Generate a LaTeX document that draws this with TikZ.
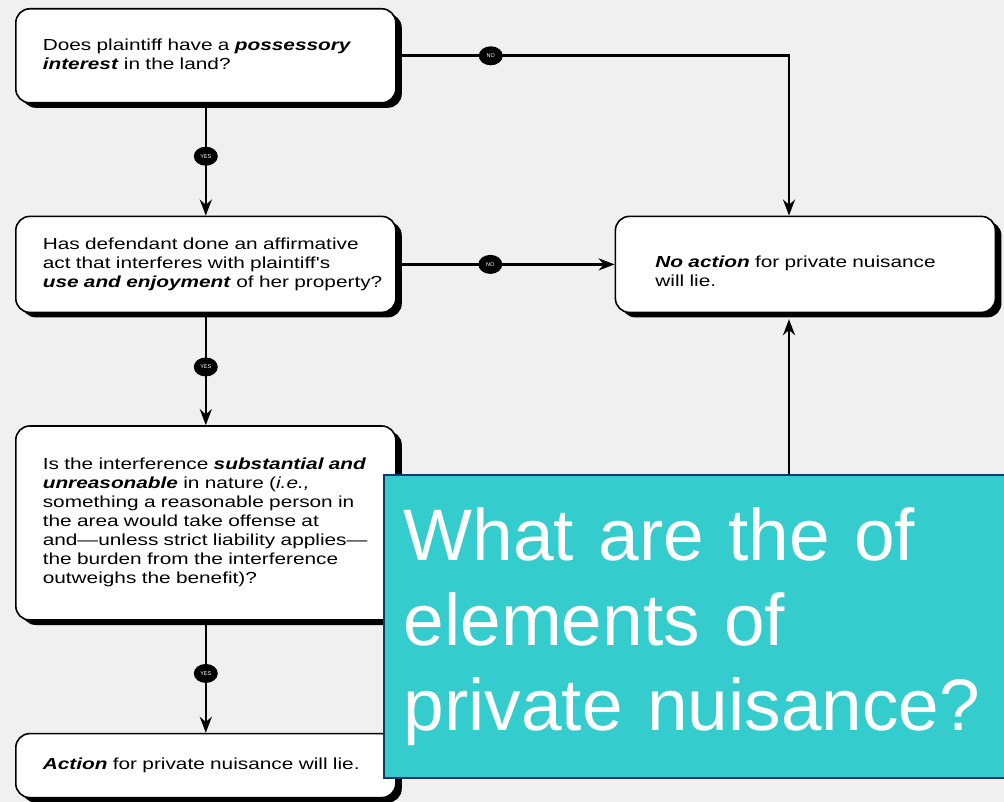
\documentclass[tikz,border=0pt]{standalone}
\usepackage{fontspec}
\setsansfont{Liberation Sans}
\newfontfamily\scanfont[FakeStretch=1.3]{Liberation Sans}
\usetikzlibrary{positioning,shapes.geometric,shadows,arrows.meta}
\definecolor{paper}{RGB}{240,240,240}
\definecolor{slide}{RGB}{52,204,204}
\definecolor{navy}{RGB}{24,56,100}
\newcommand{\qlines}[1]{\begin{tabular}{@{}l@{}}#1\end{tabular}}

\begin{document}
\begin{tikzpicture}[x=1pt,y=-1pt,
  qbox/.style={draw, line width=1.6pt, rounded corners=14pt, fill=white,
    drop shadow={shadow xshift=6pt, shadow yshift=-5pt, fill=black, opacity=1},
    text width=326pt, inner xsep=27pt, align=left,
    font=\scanfont\fontsize{16}{19}\selectfont},
  flow/.style={line width=2.6pt, -{Stealth[length=16pt,width=12pt]}},
  badge/.style={ellipse, fill=black, minimum width=24pt, minimum height=19pt,
    inner sep=0pt, text=white, font=\sffamily\fontsize{5.5}{5.5}\selectfont}]

  \path[use as bounding box, fill=paper] (0,0) rectangle (1004,802);

  \node[qbox, minimum height=94pt, anchor=north west] (possess) at (15,8)
    {\qlines{Does plaintiff have a \textbf{\textit{possessory}}\\
     \textbf{\textit{interest}} in the land?}};
  \node[qbox, minimum height=96pt, below=112pt of possess] (act)
    {\qlines{Has defendant done an affirmative\\
     act that interferes with plaintiff's\\
     \textbf{\textit{use and enjoyment}} of her property?}};
  \node[qbox, minimum height=194pt, below=112pt of act] (unreason)
    {\qlines{Is the interference \textbf{\textit{substantial and}}\\
     \textbf{\textit{unreasonable}} in nature (\textit{i.e.,}\\
     something a reasonable person in\\
     the area would take offense at\\
     and\textemdash unless strict liability applies\textemdash\\
     the burden from the interference\\
     outweighs the benefit)?}};
  \node[qbox, minimum height=64pt, below=112pt of unreason] (action)
    {\qlines{\textbf{\textit{Action}} for private nuisance will lie.}};
  \node[qbox, minimum height=96pt, text width=300pt, inner xsep=40pt,
    right=218pt of act] (noaction)
    {\raisebox{-9pt}[\height][\depth]{\qlines{\textbf{\textit{No action}} for private nuisance\\ will lie.}}};

  \coordinate (drop) at (789,0);

  \draw[flow] (possess) -- node[badge, pos=0.47] {YES} (act);
  \draw[flow] (act) -- node[badge, pos=0.48] {YES} (unreason);
  \draw[flow] (unreason) -- node[badge, pos=0.47] {YES} (action);

  \draw[flow] (possess.east) -- node[badge, pos=0.24] {NO} (possess.east -| drop)
    -- (noaction.north -| drop);
  \draw[flow] (act) -- node[badge, pos=0.43] {NO} (noaction);
  \draw[flow, shorten >=6pt] (unreason.east) -- (unreason.east -| drop)
    -- (noaction.south -| drop);

  % slide question on top
  \node[draw=navy, line width=1.5pt, fill=slide, text=white, anchor=north west,
    minimum height=303pt, text width=620pt, inner xsep=20pt, align=left,
    font=\sffamily\fontsize{73}{85}\selectfont] (question) at (383,474)
    {What are the of\\ elements of\\ private nuisance?};

\end{tikzpicture}
\end{document}
